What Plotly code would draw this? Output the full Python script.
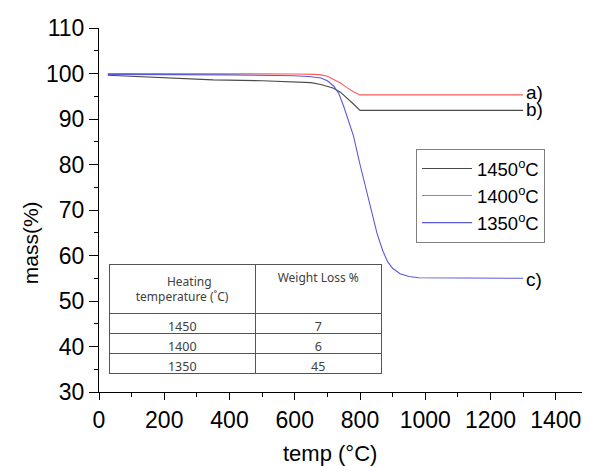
import plotly.graph_objects as go

# ---- data ----
temp_1450 = [27, 60, 125, 200, 350, 500, 625, 650, 680, 717, 740, 760, 780, 800, 1300]
mass_1450 = [99.6, 99.5, 99.3, 99.0, 98.6, 98.4, 98.2, 98.0, 97.6, 96.8, 95.9, 94.7, 93.3, 91.9, 91.9]

temp_1400 = [27, 200, 400, 600, 660, 680, 700, 717, 740, 760, 780, 800, 1300]
mass_1400 = [100.0, 100.0, 99.9, 99.9, 99.8, 99.7, 99.4, 98.8, 97.9, 96.9, 96.0, 95.3, 95.3]

temp_1350 = [27, 200, 400, 600, 650, 680, 700, 720, 735, 750, 765, 780, 800, 826, 852,
             870, 885, 900, 923, 950, 980, 1300]
mass_1350 = [99.8, 99.8, 99.7, 99.5, 99.3, 99.0, 98.4, 97.2, 95.6, 92.8, 89.6, 86.3, 80.0,
             72.2, 64.9, 61.0, 58.6, 57.2, 56.0, 55.4, 55.1, 55.0]

series_names = ["1450<sup>o</sup>C", "1400<sup>o</sup>C", "1350<sup>o</sup>C"]
series_labels = ["b)", "a)", "c)"]
series_colors = ["#4a4a4a", "#ff5a5a", "#5a5ad6"]

table_header = ["&nbsp;" * 10 + "Heating<br>temperature (˚C)", "Weight Loss %"]
table_temps = ["1450", "1400", "1350"]
table_loss = ["7", "6", "45"]

x_ticks = [0, 200, 400, 600, 800, 1000, 1200, 1400]
y_ticks = [30, 40, 50, 60, 70, 80, 90, 100, 110]

FONT = "Liberation Sans, Arial, sans-serif"

fig = go.Figure()
temps = [temp_1450, temp_1400, temp_1350]
masses = [mass_1450, mass_1400, mass_1350]
for t, m, name, col in zip(temps, masses, series_names, series_colors):
    fig.add_trace(go.Scatter(x=t, y=m, mode="lines", name=name,
                             line=dict(color=col, width=1.1)))

# end labels a) b) c)
label_offsets = [1, 2, -1]
for t, m, lab, off in zip(temps, masses, series_labels, label_offsets):
    fig.add_annotation(x=t[-1], y=m[-1], text=lab, showarrow=False,
                       xanchor="left", yanchor="middle", xshift=1, yshift=off,
                       font=dict(family=FONT, size=19, color="black"))

fig.add_trace(go.Table(
    domain=dict(x=[0.0204, 0.5764], y=[0.045, 0.35]),
    columnwidth=[147, 126],
    header=dict(values=table_header, align="center", height=40,
                line=dict(color="#555555", width=1), fill=dict(color="white"),
                font=dict(family="Noto Sans, sans-serif", size=12, color="#404040")),
    cells=dict(values=[table_temps, table_loss], align="center", height=20,
               line=dict(color="#555555", width=1), fill=dict(color="white"),
               font=dict(family="Noto Sans, sans-serif", size=12.5, color="#404040")),
))

# page body has an 8px margin: figure is sized/offset to compensate
fig.update_layout(
    width=582, height=458,
    margin=dict(l=91, r=0, t=20, b=74, autoexpand=False),
    paper_bgcolor="white", plot_bgcolor="white",
    font=dict(family=FONT, color="black"),
    showlegend=True,
    legend=dict(x=0.6456, y=0.6676, xanchor="left", yanchor="top",
                bordercolor="#808080", borderwidth=1, bgcolor="white",
                font=dict(family=FONT, size=18.5, color="black"),
                itemwidth=50, tracegroupgap=0),
    xaxis=dict(range=[0, 1505], tickvals=x_ticks, ticktext=[str(v) for v in x_ticks],
               automargin=False,
               showgrid=False, zeroline=False, showline=True, linecolor="black", linewidth=1.2,
               ticks="outside", ticklen=7, tickcolor="black", tickwidth=1.2,
               minor=dict(dtick=100, ticks="outside", ticklen=4, tickcolor="black"),
               tickfont=dict(family=FONT, size=23, color="black")),
    yaxis=dict(range=[30, 110], tickvals=y_ticks, ticktext=[str(v) for v in y_ticks],
               automargin=False,
               showgrid=False, zeroline=False, showline=True, linecolor="black", linewidth=1.2,
               ticks="outside", ticklen=9, tickcolor="black", tickwidth=1.2,
               minor=dict(dtick=5, ticks="outside", ticklen=4, tickcolor="black"),
               tickfont=dict(family=FONT, size=23, color="black")),
)

# axis titles
fig.add_annotation(text="temp (°C)", xref="paper", yref="paper", x=(330 - 99) / 491, y=-0.128,
                   xanchor="center", yanchor="top", showarrow=False,
                   font=dict(family=FONT, size=22, color="black"))
fig.add_annotation(text="mass(%)", xref="paper", yref="paper", x=-0.14, y=(392 - 243) / 364,
                   xanchor="center", yanchor="middle", textangle=-90, showarrow=False,
                   font=dict(family=FONT, size=21, color="black"))

fig.write_html("out.html")
